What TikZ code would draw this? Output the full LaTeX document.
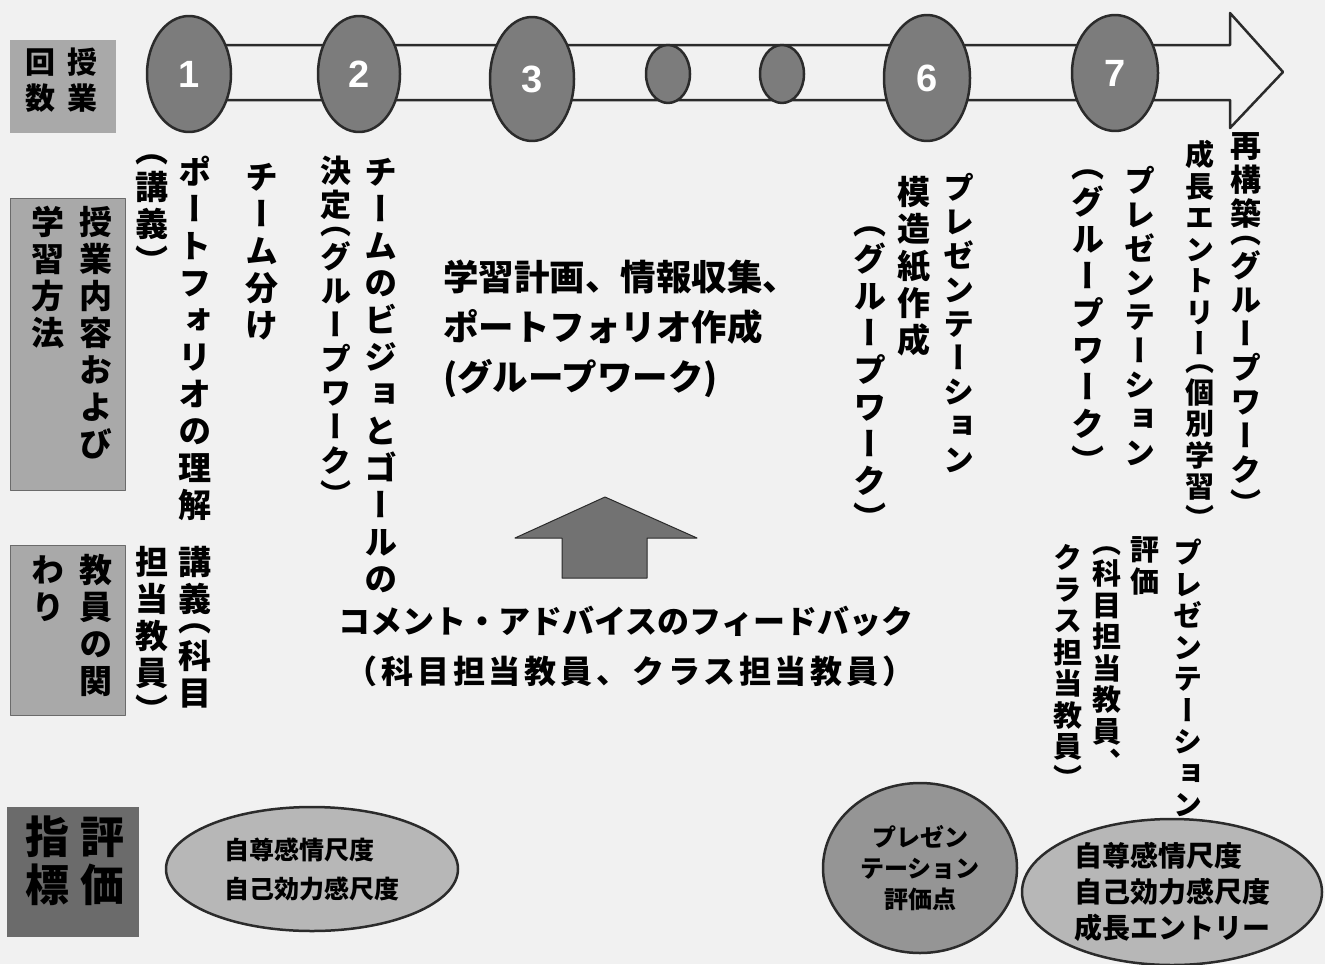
\documentclass[tikz,border=0pt]{standalone}
\usepackage{fontspec}
\usetikzlibrary{shapes.geometric}
\newfontfamily\jp{Noto Sans CJK JP}
\newfontfamily\vjp{Noto Sans CJK JP}[RawFeature=+vert]
\newfontfamily\arialf{Liberation Sans}
\definecolor{bg}{HTML}{F1F1F1}
\definecolor{edge}{HTML}{2B2B2B}
\definecolor{ellfill}{HTML}{7C7C7C}
\definecolor{labfill}{HTML}{A9A9A9}
\definecolor{darklab}{HTML}{6B6B6B}
\definecolor{lightell}{HTML}{B7B7B7}
\definecolor{midell}{HTML}{959595}
\definecolor{arrowfill}{HTML}{727272}
\newlength\vtgap
\setlength\vtgap{3pt}
\def\vtend{}
\def\vtaux#1{\ifx#1\vtend\else\vtchar#1\expandafter\vtaux\fi}
\def\vtchar#1{\ifx#1（\kern-.5em\fi\hbox{\vrule height .88em depth .12em width 0pt\hbox to 1em{\hss#1\hss}}\kern\vtgap\ifx#1）\kern-.5em\fi}
\newcommand\vt[1]{\vbox{\offinterlineskip\vjp\vtaux#1\vtend}}
\begin{document}
\begin{tikzpicture}[x=1pt,y=-1pt,line join=round,
  vcol/.style={inner sep=0pt,anchor=north,font=\bfseries\fontsize{33}{36}\selectfont\setlength\vtgap{4pt}},
  vmid/.style={inner sep=0pt,anchor=north,font=\bfseries\fontsize{31}{34}\selectfont\setlength\vtgap{3pt}},
  vtiny/.style={inner sep=0pt,anchor=north,font=\bfseries\fontsize{29}{32}\selectfont\setlength\vtgap{2.5pt}},
  numell/.style={ellipse,draw=edge,line width=2.5pt,fill=ellfill,inner sep=0pt,text=white,font=\arialf\bfseries\fontsize{38}{40}\selectfont},
  lab/.style={fill=labfill,draw=edge!70,line width=0.8pt,anchor=north west,inner sep=0pt},
  evell/.style={ellipse,draw=edge,line width=2.5pt,inner sep=0pt,font=\jp\bfseries}]
\fill[bg] (0,0) rectangle (1325,964);
\useasboundingbox (0,0) rectangle (1325,964);
% timeline band arrow
\draw[draw=edge,line width=2.5pt,fill=bg] (189,45) -- (1230,45) -- (1230,13) -- (1283,72) -- (1230,128) -- (1230,100) -- (189,100);
% session ellipses
\node[numell,minimum width=84,minimum height=116] (n1) at (189,74) {1};
\node[numell,minimum width=82,minimum height=116] (n2) at (359,74) {2};
\node[numell,minimum width=84,minimum height=124] (n3) at (532,79) {3};
\node[numell,minimum width=44,minimum height=58] (n4) at (668,74) {};
\node[numell,minimum width=44,minimum height=58] (n5) at (782,74) {};
\node[numell,minimum width=86,minimum height=126] (n6) at (927,78) {6};
\node[numell,minimum width=86,minimum height=116] (n7) at (1115,73) {7};
% left label boxes
\node[lab,fill=labfill,draw=none,minimum width=106,minimum height=93] (lab1) at (10,40) {};
\node[inner sep=0pt,anchor=north,font=\bfseries\fontsize{30}{34}\selectfont\setlength\vtgap{6pt}] (lab1r) at (82,47) {\vt{授業}};
\node[inner sep=0pt,anchor=north,font=\bfseries\fontsize{30}{34}\selectfont\setlength\vtgap{6pt}] (lab1l) at (40,47) {\vt{回数}};
\node[lab,minimum width=115,minimum height=292] (lab2) at (10,198) {};
\node[vcol] (lab2r) at (96,205) {\vt{授業内容および}};
\node[vcol] (lab2l) at (48,205) {\vt{学習方法}};
\node[lab,minimum width=115,minimum height=170] (lab3) at (10,545) {};
\node[vcol] (lab3r) at (96,553) {\vt{教員の関}};
\node[vcol] (lab3l) at (48,553) {\vt{わり}};
\node[lab,fill=darklab,draw=none,minimum width=132,minimum height=130] (lab4) at (7,807) {};
\node[inner sep=0pt,anchor=north,font=\bfseries\fontsize{44}{48}\selectfont\setlength\vtgap{4pt}] (lab4r) at (102,815) {\vt{評価}};
\node[inner sep=0pt,anchor=north,font=\bfseries\fontsize{44}{48}\selectfont\setlength\vtgap{4pt}] (lab4l) at (47,815) {\vt{指標}};
% vertical content columns
\node[vcol] (c1) at (152,150) {\vt{（講義）}};
\node[vcol] (c2) at (195,155) {\vt{ポートフォリオの理解}};
\node[vcol] (c3) at (195,545) {\vt{講義（科目}};
\node[vcol] (c4) at (152,545) {\vt{担当教員）}};
\node[vcol] (c5) at (262,160) {\vt{チーム分け}};
\node[vmid] (c6) at (336,155) {\vt{決定（グループワーク）}};
\node[vcol] (c7) at (381,155) {\vt{チームのビジョとゴールの}};
\node[vcol] (c8) at (870,222) {\vt{（グループワーク）}};
\node[vcol] (c9) at (914,175) {\vt{模造紙作成}};
\node[vmid] (c10) at (959,172) {\vt{プレゼンテーション}};
\node[vcol] (c11) at (1088,165) {\vt{（グループワーク）}};
\node[vmid] (c12) at (1140,165) {\vt{プレゼンテーション}};
\node[vtiny] (c13) at (1200,140) {\vt{成長エントリー（個別学習）}};
\node[vmid] (c14) at (1246,130) {\vt{再構築（グループワーク）}};
\node[vtiny] (c15) at (1188,538) {\vt{プレゼンテーション}};
\node[vtiny] (c16) at (1145,535) {\vt{評価}};
\node[vtiny] (c17) at (1107,542) {\vt{（科目担当教員、}};
\node[vtiny] (c18) at (1068,543) {\vt{クラス担当教員）}};
% horizontal texts
\node[inner sep=0pt,anchor=north west,align=left,font=\jp\bfseries\fontsize{35.5}{50}\selectfont] (plan) at (443,260)
  {学習計画、情報収集、\\ポートフォリオ作成\\(グループワーク)};
\draw[draw=edge,line width=1pt,fill=arrowfill] (605,497) -- (697,538) -- (647,538) -- (647,578) -- (562,578) -- (562,538) -- (515,538) -- cycle;
\node[inner sep=0pt,anchor=north,font=\jp\bfseries\fontsize{32}{50}\selectfont] (fb1) at (626,606)
  {コメント・アドバイスのフィードバック};
\node[inner sep=0pt,anchor=north,font=\jp\bfseries\fontsize{32}{50}\selectfont\addfontfeature{LetterSpace=12}] (fb2) at (630,656)
  {（科目担当教員、クラス担当教員）};
% evaluation ellipses
\node[evell,fill=lightell,minimum width=292,minimum height=124,align=left,font=\jp\bfseries\fontsize{25}{39}\selectfont] (ea) at (312,869) {自尊感情尺度\\自己効力感尺度};
\node[evell,fill=midell,minimum width=194,minimum height=170,align=center,font=\jp\bfseries\fontsize{24}{31}\selectfont] (eb) at (920,868) {プレゼン\\テーション\\評価点};
\node[evell,fill=lightell,minimum width=300,minimum height=146,align=left,font=\jp\bfseries\fontsize{28}{36}\selectfont] (ec) at (1172,892) {自尊感情尺度\\自己効力感尺度\\成長エントリー};
\end{tikzpicture}
\end{document}
